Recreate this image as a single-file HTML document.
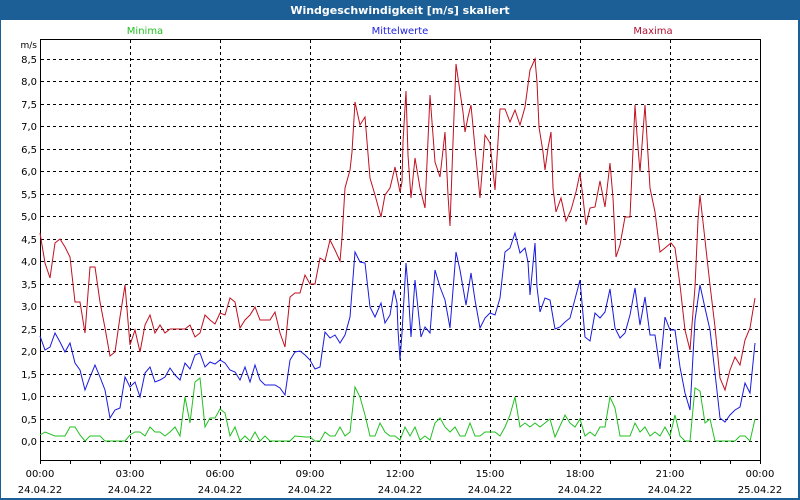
<!DOCTYPE html>
<html><head><meta charset="utf-8"><style>
body{margin:0;width:800px;height:500px;overflow:hidden;background:#1a5e96;}
svg{display:block;font-family:"DejaVu Sans","Liberation Sans",sans-serif;}
</style></head><body>
<svg width="800" height="500" viewBox="0 0 800 500">
<rect x="0" y="0" width="800" height="500" fill="#1c5f97"/>
<rect x="1" y="20" width="797" height="478" fill="#fff"/>
<text x="400" y="14" fill="#fff" font-size="11" font-weight="bold" text-anchor="middle">Windgeschwindigkeit [m/s] skaliert</text>
<text x="145" y="34" fill="#22c022" font-size="10" text-anchor="middle">Minima</text>
<text x="400" y="34" fill="#2222dd" font-size="10" text-anchor="middle">Mittelwerte</text>
<text x="653" y="34" fill="#b01030" font-size="10" text-anchor="middle">Maxima</text>
<text x="37" y="48" fill="#000" font-size="9" text-anchor="end">m/s</text>
<g stroke="#000" stroke-width="1" stroke-dasharray="3,3" fill="none">
<path d="M130.5 40V460M220.5 40V460M310.5 40V460M400.5 40V460M490.5 40V460M580.5 40V460M670.5 40V460"/>
<path id="hg" d=""/>
</g>
<g id="yl" font-size="10" fill="#000" text-anchor="end"></g>
<g id="xl" font-size="10" fill="#000" text-anchor="middle"></g>
<rect x="40.5" y="39.5" width="720" height="421" fill="none" stroke="#000"/>
<g stroke="#000"><path id="tk" d=""/></g>
<polyline fill="none" stroke="#22c022" points="40,435 45,432 55,436 65,436 70,427 75,427 80,435 85,441 90,436 100,436 105,441 125,441 130,435 135,432 140,432 145,436 150,427 155,432 160,432 165,436 170,432 175,427 180,436 185,397 190,423 195,382 200,378 205,427 210,418 215,418 220,409 225,413 230,436 235,427 240,441 245,436 250,441 255,432 260,441 265,436 270,441 290,441 295,436 305,437 310,437 315,441 320,441 325,432 330,436 335,436 340,427 345,436 350,432 355,387 360,397 365,415 370,436 375,436 380,423 385,432 390,436 395,436 400,440 405,427 410,436 415,427 420,440 425,436 430,440 435,423 440,418 445,427 450,432 455,427 460,436 465,436 470,423 475,436 480,436 485,432 495,432 500,436 505,427 510,415 515,397 520,427 525,423 530,427 535,423 540,427 550,419 555,437 565,415 570,423 575,427 580,419 585,436 590,432 595,436 600,427 605,427 610,397 615,408 620,436 630,436 635,423 640,432 645,427 650,436 655,432 660,436 665,427 670,436 675,415 680,436 685,441 690,441 695,388 700,391 705,423 710,419 715,441 735,441 740,436 745,436 750,441 755,419"/>
<polyline fill="none" stroke="#1a1ae0" points="40,336 45,350 50,347 55,333 60,342 65,352 70,343 75,363 80,370 85,390 90,377 95,365 100,377 105,390 110,418 115,410 120,408 125,377 130,387 135,382 140,397 145,373 150,367 155,382 160,380 165,377 170,368 175,375 180,380 185,363 190,369 195,355 200,353 205,367 210,362 215,364 220,360 225,363 230,370 235,372 240,380 245,367 250,382 255,365 260,380 265,385 275,385 280,388 285,395 290,360 295,352 300,351 305,355 310,360 315,369 320,367 325,332 330,338 335,335 340,343 345,335 350,317 355,252 360,262 365,263 370,307 375,317 381,303 385,323 390,315 394,290 397,303 398,330 400,360 402,333 406,263 408,287 411,337 415,280 421,337 425,327 430,333 435,270 440,287 445,300 450,328 456,252 460,270 466,305 471,273 475,300 480,328 485,318 490,313 495,315 500,298 505,252 510,248 515,233 520,253 525,248 528,262 530,295 535,243 537,287 540,312 545,298 550,300 555,329 560,327 565,322 570,318 580,280 585,337 590,341 595,313 600,318 605,312 610,289 615,328 620,338 625,333 630,315 635,288 640,325 645,297 650,335 655,335 660,369 665,317 670,330 675,330 680,367 685,393 690,410 695,320 700,285 705,308 710,330 715,373 720,418 725,422 730,415 735,410 740,407 745,383 750,393 755,343"/>
<polyline fill="none" stroke="#c01020" points="40,233 45,263 50,278 55,243 60,239 65,247 70,257 75,302 80,302 85,333 90,267 95,267 100,302 105,328 110,356 115,352 120,317 125,285 130,345 135,330 140,352 145,325 150,315 155,333 160,325 165,333 170,329 185,329 190,325 195,337 200,333 205,315 210,320 215,324 220,313 225,315 230,298 235,302 240,328 245,320 250,315 255,307 260,320 270,320 275,312 280,333 285,347 290,297 295,293 300,293 305,275 310,284 315,284 320,258 325,261 330,240 335,250 340,261 342,238 345,188 350,170 352,152 355,102 360,125 365,117 370,178 375,195 381,217 385,195 390,188 395,167 400,192 402,182 403,142 406,91 408,155 411,198 415,158 420,188 425,208 430,95 435,162 440,177 445,132 448,195 450,226 453,142 456,64 458,78 463,112 465,132 468,117 471,105 475,148 480,198 485,135 490,143 495,190 500,109 505,109 510,122 515,110 520,125 525,107 530,70 535,59 537,82 539,127 543,152 545,170 548,148 551,132 553,188 556,212 561,198 566,221 571,210 576,192 580,173 583,198 586,225 590,208 595,207 600,181 605,207 610,163 613,198 616,257 620,245 625,217 630,217 635,105 637,135 640,172 645,105 650,188 655,212 660,252 665,248 671,243 675,248 680,285 685,330 690,350 695,287 698,220 700,195 703,222 710,285 715,327 720,378 725,390 730,370 735,357 740,365 745,340 750,328 755,298"/>
</svg>
<script>
var ns="http://www.w3.org/2000/svg";
var d="",yl=document.getElementById("yl");
for(var i=0;i<=17;i++){var y=441-i*22.47;var yy=Math.round(y)+0.5;d+="M41 "+yy+"H760";
var t=document.createElementNS(ns,"text");t.setAttribute("x","37");t.setAttribute("y",Math.round(y)+4);
t.textContent=(i/2).toFixed(1).replace(".",",");yl.appendChild(t);}
document.getElementById("hg").setAttribute("d",d);
var tk="";for(var k=0;k<=24;k++){var x=40.5+k*30;tk+="M"+x+" 460V464";}
document.getElementById("tk").setAttribute("d",tk);
var xl=document.getElementById("xl");
var times=["00:00","03:00","06:00","09:00","12:00","15:00","18:00","21:00","00:00"];
for(var j=0;j<9;j++){var x=40+j*90;
var a=document.createElementNS(ns,"text");a.setAttribute("x",x);a.setAttribute("y","477");a.textContent=times[j];xl.appendChild(a);
var b=document.createElementNS(ns,"text");b.setAttribute("x",x);b.setAttribute("y","493");b.textContent=j==8?"25.04.22":"24.04.22";xl.appendChild(b);}
</script>
</body></html>
